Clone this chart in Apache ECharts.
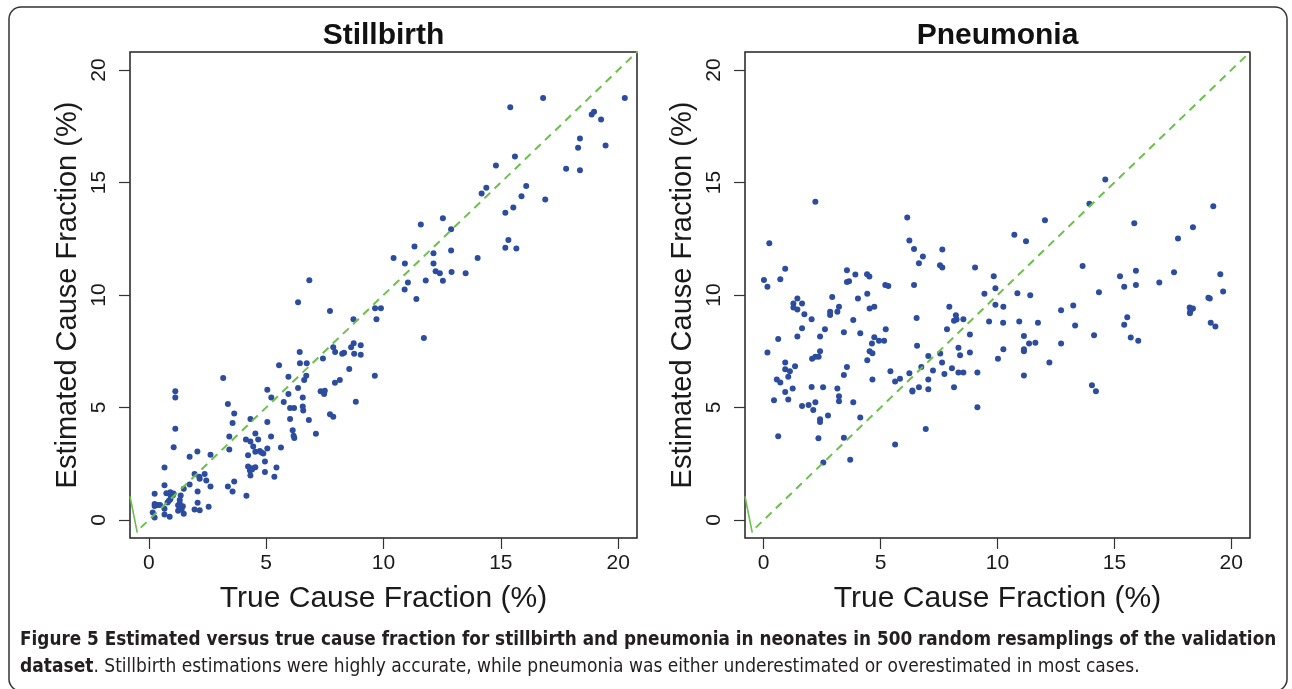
<!DOCTYPE html>
<html>
<head>
<meta charset="utf-8">
<script src="https://cdn.jsdelivr.net/npm/echarts@6/dist/echarts.min.js"></script>
<style>
html, body { margin: 0; padding: 0; background: #fff; }
#chart { width: 1292px; height: 689px; }
</style>
</head>
<body>
<div id="chart"></div>
<script>
// axis ticks shared by both panels
const ticks = [0, 5, 10, 15, 20];
const panelTitles = ['Stillbirth', 'Pneumonia'];

// [true, estimated] cause fraction (%)
const stillbirthPoints = [
    [6.84,10.66],[16.80,18.76],[15.40,18.34],[20.28,18.76],[18.97,18.14],[18.87,18.02],[19.27,17.80],[18.37,16.96],
    [18.29,16.54],[19.46,16.65],[15.60,16.16],[14.79,15.76],[17.78,15.61],[18.37,15.54],[16.08,14.84],[14.38,14.77],
    [14.18,14.51],[15.88,14.39],[16.89,14.25],[15.53,13.89],[15.19,13.66],[12.53,13.41],[11.59,13.13],[12.88,12.92],
    [15.32,12.44],[11.32,12.16],[15.19,12.10],[15.66,12.07],[12.88,11.98],[12.13,11.86],[10.43,11.64],[14.01,11.64],
    [10.91,11.40],[12.13,11.40],[12.22,11.06],[12.40,10.97],[12.90,11.02],[13.50,10.97],[11.80,10.65],[12.53,10.63],
    [11.04,10.56],[10.90,10.25],[9.89,9.41],[11.40,9.82],[11.72,8.09],
    [6.36,9.68],[7.72,9.29],[9.64,9.41],[8.72,8.92],[9.70,8.92],[6.43,7.47],[5.55,6.88],[6.44,6.97],[6.73,6.97],
    [7.42,7.18],[7.86,7.68],[7.94,7.47],[8.24,7.39],[8.32,7.43],[8.62,7.68],[8.73,7.86],[9.03,7.77],[8.75,7.39],
    [9.03,7.34],[8.54,6.71],[9.63,6.41],[8.82,5.26],[3.17,6.31],[5.95,6.37],[6.71,6.41],[6.62,6.22],[7.93,6.10],
    [8.14,6.22],[6.36,5.87],[7.32,5.72],[7.50,5.75],[7.47,5.60],[5.05,5.79],[5.22,5.45],[5.95,5.60],[6.56,5.45],
    [5.75,5.25],[1.13,5.72],[1.13,5.45],[3.37,5.16],[6.02,4.98],[6.19,4.98],[6.56,5.05],[6.58,4.87],[7.72,4.70],
    [7.86,4.59],[6.82,4.45],[3.64,4.73],[3.57,4.31],[4.33,4.49],[5.05,4.36],[6.02,4.49],[1.13,4.06],[4.54,3.85],
    [7.12,3.83],[6.13,3.99],[6.17,3.75],[6.20,3.65],[5.21,3.71],[3.43,3.71],[4.14,3.58],[4.33,3.49],[4.66,3.58],
    [4.45,3.27],[3.43,3.13],[1.06,3.23],[2.07,3.04],[1.74,2.81],[2.63,2.90],[4.54,3.03],[4.73,3.07],[4.88,2.96],
    [4.80,3.00],[5.05,3.18],[5.63,3.22],[4.23,2.88],[4.95,2.60],[4.23,2.38],[4.37,2.30],[4.31,2.20],[4.40,2.25],
    [4.54,2.35],[4.33,1.98],[4.95,2.13],[5.44,2.33],[5.35,1.92],[0.67,2.33],[1.95,2.05],[2.15,1.92],[2.17,1.83],
    [2.38,2.05],[2.45,1.76],[2.63,1.49],[0.67,1.54],[0.25,1.17],[0.75,1.19],[0.92,1.23],[1.03,1.10],[1.05,1.18],
    [0.94,1.05],[1.49,1.39],[1.36,1.09],[1.32,0.89],[2.08,1.27],[1.74,1.58],[3.37,1.49],[3.64,1.71],[3.57,1.27],
    [4.16,1.08],[2.08,0.77],[1.95,0.47],[2.17,0.43],[2.55,0.59],[0.25,0.71],[0.39,0.67],[0.48,0.67],[0.25,0.62],
    [1.25,0.66],[1.32,0.73],[1.45,0.61],[1.25,0.41],[1.40,0.47],[0.67,0.50],[0.86,0.86],[0.92,0.92],[0.80,0.78],
    [0.17,0.33],[0.25,0.11],[0.67,0.25],[0.89,0.15],[1.49,0.28]
];

const pneumoniaPoints = [
    [2.21,14.15],[6.14,13.44],[0.24,12.30],[6.23,12.42],[6.43,12.04],[7.64,12.02],[6.81,11.71],[6.64,11.41],
    [7.54,11.32],[7.64,11.22],[9.04,11.22],[9.84,10.83],[0.92,11.17],[0.01,10.67],[0.16,10.37],[0.71,10.70],
    [3.56,11.10],[3.56,10.58],[3.65,10.61],[3.92,10.91],[4.42,10.92],[4.52,10.82],[5.20,10.44],[5.33,10.40],
    [6.43,10.44],[9.91,10.30],
    [14.61,15.13],[13.93,14.06],[12.03,13.32],[19.23,13.94],[15.85,13.19],[18.36,13.01],[10.72,12.68],[11.22,12.39],
    [17.72,12.51],[13.64,11.29],[15.92,11.08],[17.55,11.01],[19.53,10.92],[15.24,10.83],[15.42,10.37],[15.92,10.44],
    [16.92,10.56],
    [1.44,9.85],[1.27,9.62],[1.27,9.45],[1.44,9.36],[1.64,9.62],[1.74,9.14],[2.93,9.91],[3.22,9.48],[3.15,9.26],
    [2.84,9.26],[2.84,9.11],[4.03,9.85],[4.43,10.06],[4.73,9.48],[4.53,9.40],[2.05,8.92],[3.83,8.89],[1.64,8.52],
    [2.62,8.48],[3.43,8.34],[4.13,8.30],[5.22,8.48],[0.62,8.04],[1.44,8.16],[2.41,8.16],[4.73,8.12],[4.63,7.85],
    [4.93,7.97],[5.15,7.97],[0.16,7.45],[2.41,7.50],[2.07,7.17],[2.21,7.26],[2.35,7.26],[4.53,7.50],[4.65,7.41],
    [4.43,7.10],[0.92,7.00],[0.92,6.70],[1.12,6.61],[1.05,6.37],[1.34,6.83],[3.56,6.80],[3.43,6.44],[0.56,6.25],
    [0.71,6.11],[0.92,5.69],[1.24,5.85],[2.05,5.91],[2.54,5.90],[3.15,5.85],[3.22,5.50],[3.22,5.28],[0.44,5.32],
    [1.05,5.36],[1.64,5.07],[1.92,5.11],[2.21,5.23],[2.12,4.89],[3.83,5.23],[4.65,6.24],[5.42,6.61],[5.62,6.16],
    [5.83,6.28],[6.23,6.52],[6.36,5.76],[6.36,5.71],[6.64,5.90],[7.04,5.81],[7.04,6.24],[7.24,6.65],[7.04,7.29],
    [6.74,6.80],[6.56,7.75],[6.54,8.98],[7.55,7.40],[7.63,7.00],[7.73,6.49],[8.05,6.74],[8.33,7.66],[8.40,7.32],
    [8.33,6.56],[8.54,6.56],[8.14,5.90],[7.84,8.48],[7.94,9.48],[8.22,9.10],[8.14,8.86],[8.25,8.91],[8.54,8.92],
    [8.82,8.25],[8.82,7.45],[9.14,6.56],[9.14,5.01],[9.44,10.06],[9.91,9.57],[9.64,8.82],[10.02,7.17],[6.93,4.04],
    [5.62,3.36],[4.13,4.56],[3.43,3.66],[3.70,2.68],[2.55,2.56],[2.41,4.48],[2.41,4.36],[2.75,4.64],[2.34,3.63],
    [0.62,3.72],
    [10.85,10.08],[11.40,9.99],[10.25,9.48],[14.34,10.12],[19.65,10.16],[19.02,9.88],[19.08,9.84],[18.22,9.44],
    [18.36,9.40],[18.25,9.29],[18.23,9.19],[12.72,9.32],[13.24,9.53],[15.55,9.01],[15.42,8.68],[10.24,8.77],
    [10.93,8.82],[11.73,8.77],[13.32,8.64],[19.12,8.77],[19.32,8.60],[11.13,8.18],[14.13,8.21],[15.70,8.11],
    [16.02,7.97],[11.35,7.85],[11.62,7.88],[12.72,7.85],[10.25,7.59],[11.13,7.59],[11.13,7.50],[12.22,7.00],
    [11.13,6.42],[14.04,5.99],[14.21,5.72]
];

// y = x reference and the short solid stroke at the lower left corner
const identityLine = [[-0.34, -0.34], [20.85, 20.85]];
const cornerStroke = [[-0.8, 1.05], [-0.49, -0.56]];

const FONT = '"Liberation Sans", Arial, sans-serif';
const CAPTION_FONT = '"DejaVu Sans Condensed", "Liberation Sans", sans-serif';
const grids = [
    { left: 130, top: 52, width: 507, height: 486 },
    { left: 745, top: 52, width: 505, height: 486 }
];

function xAxisFor(i) {
    return {
        gridIndex: i, type: 'value', min: -0.8, max: 20.8,
        name: 'True Cause Fraction (%)', nameLocation: 'middle', nameGap: 46,
        nameTextStyle: { fontFamily: FONT, fontSize: 30, color: '#1a1a1a' },
        axisLine: { show: false, onZero: false }, splitLine: { show: false },
        axisTick: { show: true, length: 11, customValues: ticks, lineStyle: { color: '#333', width: 1.2 } },
        axisLabel: { customValues: ticks, margin: 15, fontFamily: FONT, fontSize: 21, color: '#1a1a1a' }
    };
}

function yAxisFor(i) {
    return {
        gridIndex: i, type: 'value', min: -0.8, max: 20.8,
        name: 'Estimated Cause Fraction (%)', nameLocation: 'middle', nameGap: 48, nameRotate: 90,
        nameTextStyle: { fontFamily: FONT, fontSize: 29, color: '#1a1a1a' },
        axisLine: { show: false, onZero: false }, splitLine: { show: false },
        axisTick: { show: true, length: 11, customValues: ticks, lineStyle: { color: '#333', width: 1.2 } },
        axisLabel: { customValues: ticks, rotate: 90, margin: 20, fontFamily: FONT, fontSize: 21, color: '#1a1a1a' }
    };
}

function seriesFor(i, points) {
    return [
        {
            type: 'line', xAxisIndex: i, yAxisIndex: i, data: identityLine, showSymbol: false, silent: true,
            lineStyle: { color: '#6cc04a', width: 2, type: [8, 6] }
        },
        {
            type: 'line', xAxisIndex: i, yAxisIndex: i, data: cornerStroke, showSymbol: false, silent: true,
            lineStyle: { color: '#6cc04a', width: 1.6 }
        },
        {
            type: 'scatter', xAxisIndex: i, yAxisIndex: i, data: points, symbolSize: 6,
            itemStyle: { color: '#2c4d9e', opacity: 1 }
        }
    ];
}

const chart = echarts.init(document.getElementById('chart'));

const captionLine1 = 'Figure 5 Estimated versus true cause fraction for stillbirth and pneumonia in neonates in 500 random resamplings of the validation';
const captionLine2 = '. Stillbirth estimations were highly accurate, while pneumonia was either underestimated or overestimated in most cases.';

chart.setOption({
    animation: false,
    grid: grids.map(g => Object.assign({ show: true, borderColor: '#222', borderWidth: 1.5, backgroundColor: 'transparent' }, g)),
    xAxis: [xAxisFor(0), xAxisFor(1)],
    yAxis: [yAxisFor(0), yAxisFor(1)],
    series: seriesFor(0, stillbirthPoints).concat(seriesFor(1, pneumoniaPoints)),
    graphic: [
        {
            type: 'rect', silent: true,
            shape: { x: 9, y: 7, width: 1278, height: 684, r: 12 },
            style: { fill: 'none', stroke: '#333', lineWidth: 1.5 }
        },
        ...panelTitles.map((t, i) => ({
            type: 'text', silent: true,
            x: grids[i].left + grids[i].width / 2, y: 36,
            style: {
                text: t, font: 'bold 30px ' + FONT, fill: '#111',
                align: 'center', verticalAlign: 'middle', textAlign: 'center', textVerticalAlign: 'middle'
            }
        })),
        {
            type: 'text', silent: true, x: 20, y: 640,
            style: {
                text: captionLine1, font: 'bold 18.75px ' + CAPTION_FONT, fill: '#231f20',
                verticalAlign: 'middle', textVerticalAlign: 'middle'
            }
        },
        {
            type: 'text', silent: true, x: 20, y: 667,
            style: {
                text: '{b|dataset}{r|' + captionLine2 + '}', fill: '#231f20',
                verticalAlign: 'middle', textVerticalAlign: 'middle',
                rich: {
                    b: { font: 'bold 19px ' + CAPTION_FONT, fill: '#231f20' },
                    r: { font: '19px ' + CAPTION_FONT, fill: '#231f20' }
                }
            }
        }
    ]
});
</script>
</body>
</html>
